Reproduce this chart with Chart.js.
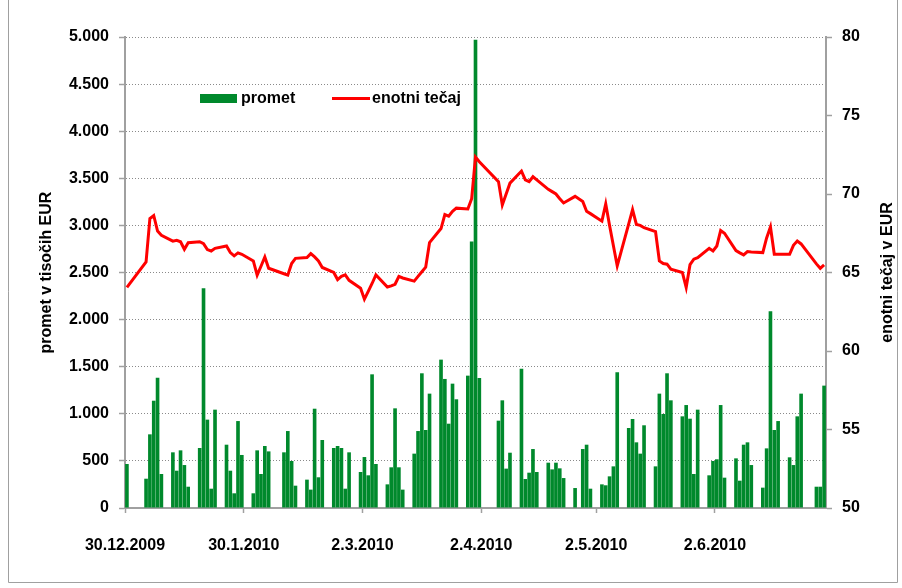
<!DOCTYPE html>
<html>
<head>
<meta charset="utf-8">
<script src="https://cdn.jsdelivr.net/npm/chart.js@4/dist/chart.umd.min.js"></script>
<style>
  html, body { margin: 0; padding: 0; background: #fff; }
  canvas { display: block; }
</style>
</head>
<body>
<canvas id="chart" width="902" height="588"></canvas>
<script>
// trading days (d.m.yyyy), one line per month
const tradingDates = [
  '30.12.2009',
  '4.1.2010', '5.1.2010', '6.1.2010', '7.1.2010', '8.1.2010', '11.1.2010', '12.1.2010', '13.1.2010', '14.1.2010', '15.1.2010',
  '18.1.2010', '19.1.2010', '20.1.2010', '21.1.2010', '22.1.2010', '25.1.2010', '26.1.2010', '27.1.2010', '28.1.2010', '29.1.2010',
  '1.2.2010', '2.2.2010', '3.2.2010', '4.2.2010', '5.2.2010', '9.2.2010', '10.2.2010', '11.2.2010', '12.2.2010', '15.2.2010',
  '16.2.2010', '17.2.2010', '18.2.2010', '19.2.2010', '22.2.2010', '23.2.2010', '24.2.2010', '25.2.2010', '26.2.2010',
  '1.3.2010', '2.3.2010', '3.3.2010', '4.3.2010', '5.3.2010', '8.3.2010', '9.3.2010', '10.3.2010', '11.3.2010', '12.3.2010',
  '15.3.2010', '16.3.2010', '17.3.2010', '18.3.2010', '19.3.2010', '22.3.2010', '23.3.2010', '24.3.2010', '25.3.2010', '26.3.2010',
  '29.3.2010', '30.3.2010', '31.3.2010',
  '1.4.2010', '6.4.2010', '7.4.2010', '8.4.2010', '9.4.2010', '12.4.2010', '13.4.2010', '14.4.2010', '15.4.2010', '16.4.2010',
  '19.4.2010', '20.4.2010', '21.4.2010', '22.4.2010', '23.4.2010', '26.4.2010', '28.4.2010', '29.4.2010', '30.4.2010',
  '3.5.2010', '4.5.2010', '5.5.2010', '6.5.2010', '7.5.2010', '10.5.2010', '11.5.2010', '12.5.2010', '13.5.2010', '14.5.2010',
  '17.5.2010', '18.5.2010', '19.5.2010', '20.5.2010', '21.5.2010', '24.5.2010', '25.5.2010', '26.5.2010', '27.5.2010', '28.5.2010',
  '31.5.2010',
  '1.6.2010', '2.6.2010', '3.6.2010', '4.6.2010', '7.6.2010', '8.6.2010', '9.6.2010', '10.6.2010', '11.6.2010', '14.6.2010',
  '15.6.2010', '16.6.2010', '17.6.2010', '18.6.2010', '21.6.2010', '22.6.2010', '23.6.2010', '24.6.2010', '28.6.2010', '29.6.2010',
  '30.6.2010'
];

// promet v tisočih EUR
const promet = [
  467,
  311, 782, 1139, 1384, 361, 591, 396, 612, 456, 226,
  637, 2332, 938, 205, 1044, 672, 396, 156, 923, 563,
  156, 612, 361, 658, 601, 591, 817, 499, 237, 301,
  195, 1054, 326, 722, 637, 658, 637, 205, 591,
  382, 541, 347, 1419, 467, 251, 432, 1058, 432, 195,
  577, 817, 1430, 828, 1214, 1575, 1370, 895, 1320, 1154,
  1405, 2830, 4970,
  1380, 927, 1143, 418, 587, 1479, 308, 375, 626, 382,
  481, 410, 481, 421, 318, 212, 626, 672, 205,
  251, 241, 336, 442, 1440, 849, 945, 697, 577, 878,
  442, 1214, 998, 1430, 1143, 973, 1093, 948, 361, 1044,
  347,
  499, 517, 1093, 322, 527, 290, 672, 697, 456, 216,
  633, 2088, 828, 923, 538, 456, 973, 1214, 226, 226,
  1299
];

// enotni tečaj v EUR
const tecaj = [
  64.05,
  65.68, 68.44, 68.63, 67.64, 67.37, 67.0, 67.05, 66.96, 66.48, 66.9,
  66.96, 66.84, 66.46, 66.37, 66.54, 66.69, 66.27, 66.06, 66.25, 66.16,
  65.74, 64.83, 65.4, 65.99, 65.27, 64.92, 64.83, 65.57, 65.9, 65.95,
  66.2, 65.99, 65.74, 65.32, 65.0, 64.55, 64.75, 64.85, 64.5,
  64.0, 63.3, 63.8, 64.3, 64.85, 64.08, 64.15, 64.25, 64.75, 64.65,
  64.45, 64.75, 65.05, 65.34, 66.9, 67.8, 68.69, 68.59, 68.9, 69.1,
  69.05, 69.7, 72.35,
  72.05, 70.79, 69.3, 70.0, 70.69, 71.46, 70.9, 70.79, 71.1, 70.9,
  70.3, 70.15, 70.0, 69.7, 69.43, 69.85, 69.53, 68.9, 68.75,
  68.27, 69.37, 68.0, 66.7, 65.42, 68.1, 69.0, 68.06, 68.0, 67.85,
  67.6, 65.74, 65.57, 65.53, 65.21, 65.0, 64.05, 65.5, 65.85, 65.95,
  66.54,
  66.37, 66.69, 67.68, 67.5, 66.4, 66.25, 66.12, 66.33, 66.31, 66.27,
  67.2, 67.9, 66.16, 66.16, 66.16, 66.73, 67.0, 66.82, 65.55, 65.27,
  65.49
];

const tickDates = ['30.12.2009', '30.1.2010', '2.3.2010', '2.4.2010', '2.5.2010', '2.6.2010'];
const firstDay = '30.12.2009';
const lastDay = '30.6.2010';

const FONT = '"Liberation Sans", Arial, sans-serif';

function dayIndex(str) {
  const [d, m, y] = str.split('.').map(Number);
  const [d0, m0, y0] = firstDay.split('.').map(Number);
  return Math.round((Date.UTC(y, m - 1, d) - Date.UTC(y0, m0 - 1, d0)) / 86400000);
}

function formatThousands(v) {
  return String(v).replace(/\B(?=(\d{3})+(?!\d))/g, '.');
}

const tickValues = tickDates.map(dayIndex);
const tickLabelByValue = {};
tickDates.forEach((t, i) => tickLabelByValue[tickValues[i]] = t);

// small plugin: frame, right axis title and legend inside the plot
const decorations = {
  id: 'decorations',
  beforeDraw(chart) {
    const ctx = chart.ctx;
    ctx.save();
    ctx.fillStyle = '#fff';
    ctx.fillRect(0, 0, chart.width, chart.height);
    ctx.strokeStyle = '#a0a0a0';
    ctx.lineWidth = 1;
    ctx.beginPath();
    ctx.moveTo(8.5, 0);
    ctx.lineTo(8.5, 582.5);
    ctx.lineTo(897.5, 582.5);
    ctx.lineTo(897.5, 0);
    ctx.stroke();
    ctx.restore();
  },
  afterDraw(chart) {
    const ctx = chart.ctx;
    const ds = chart.data.datasets;
    ctx.save();
    ctx.font = `bold 16px ${FONT}`;
    ctx.fillStyle = '#000';
    ctx.textBaseline = 'middle';

    // right axis title, reading bottom to top
    ctx.translate(888, (chart.chartArea.top + chart.chartArea.bottom) / 2);
    ctx.rotate(-Math.PI / 2);
    ctx.textAlign = 'center';
    ctx.fillText('enotni tečaj v EUR', 0, 0);
    ctx.setTransform(1, 0, 0, 1, 0, 0);

    // legend
    ctx.textAlign = 'left';
    ctx.fillStyle = ds[1].backgroundColor;
    ctx.fillRect(200, 94, 37, 9);
    ctx.fillStyle = '#000';
    ctx.fillText(ds[1].label, 241, 99);

    ctx.strokeStyle = ds[0].borderColor;
    ctx.lineWidth = 3;
    ctx.beginPath();
    ctx.moveTo(332, 98.5);
    ctx.lineTo(370, 98.5);
    ctx.stroke();
    ctx.fillText(ds[0].label, 372, 99);
    ctx.restore();
  }
};

new Chart(document.getElementById('chart'), {
  data: {
    datasets: [
      {
        type: 'line',
        label: 'enotni tečaj',
        data: tradingDates.map((d, i) => ({x: dayIndex(d) + 0.5, y: tecaj[i]})),
        borderColor: '#ff0000',
        backgroundColor: '#ff0000',
        borderWidth: 3,
        pointRadius: 0,
        tension: 0,
        yAxisID: 'y1',
        order: 0
      },
      {
        type: 'bar',
        label: 'promet',
        data: tradingDates.map((d, i) => ({x: dayIndex(d) + 0.5, y: promet[i]})),
        backgroundColor: '#00892c',
        borderWidth: 0,
        barPercentage: 0.95,
        categoryPercentage: 1,
        yAxisID: 'y',
        order: 1
      }
    ]
  },
  options: {
    responsive: false,
    animation: false,
    devicePixelRatio: 1,
    layout: {
      padding: {top: 37, left: 0, right: 0, bottom: 0}
    },
    plugins: {
      legend: {display: false},
      tooltip: {enabled: false}
    },
    scales: {
      x: {
        type: 'linear',
        offset: false,
        min: 0,
        max: dayIndex(lastDay) + 1,
        afterBuildTicks: scale => {
          scale.ticks = tickValues.map(v => ({value: v}));
        },
        afterFit: scale => {
          scale.height = 80;
        },
        ticks: {
          autoSkip: false,
          maxRotation: 0,
          padding: 23,
          color: '#000',
          font: {family: FONT, size: 16, weight: 'bold'},
          callback: v => tickLabelByValue[v] || ''
        },
        grid: {
          offset: false,
          drawOnChartArea: false,
          tickLength: 5,
          tickColor: '#a0a0a0',
          tickWidth: 1.5
        },
        border: {color: '#a0a0a0', width: 2}
      },
      y: {
        position: 'left',
        min: 0,
        max: 5000,
        afterFit: scale => {
          scale.width = 125;
        },
        ticks: {
          stepSize: 500,
          padding: 10,
          color: '#000',
          font: {family: FONT, size: 16, weight: 'bold'},
          callback: v => formatThousands(v)
        },
        grid: {
          color: '#8a8a8a',
          lineWidth: 1,
          tickLength: 6,
          tickColor: '#a0a0a0',
          tickWidth: 1.5,
          tickBorderDash: []
        },
        border: {color: '#a0a0a0', width: 2, dash: [1, 2]},
        title: {
          display: true,
          text: 'promet v tisočih EUR',
          color: '#000',
          font: {family: FONT, size: 16, weight: 'bold'},
          padding: {top: 37, bottom: 0}
        }
      },
      y1: {
        position: 'right',
        min: 50,
        max: 80,
        afterFit: scale => {
          scale.width = 76;
        },
        ticks: {
          stepSize: 5,
          padding: 10,
          color: '#000',
          font: {family: FONT, size: 16, weight: 'bold'}
        },
        grid: {
          drawOnChartArea: false,
          tickLength: 6,
          tickColor: '#a0a0a0',
          tickWidth: 1.5
        },
        border: {color: '#a0a0a0', width: 2}
      }
    }
  },
  plugins: [decorations]
});
</script>
</body>
</html>
